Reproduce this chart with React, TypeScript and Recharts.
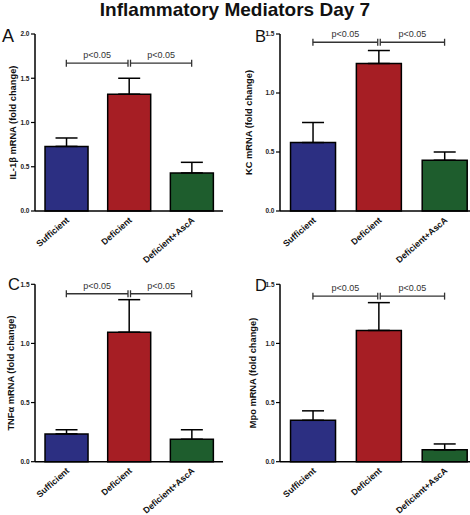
import React from "react";
import { BarChart, Bar, XAxis, YAxis, Cell, ErrorBar, ReferenceLine } from "recharts";

const FONT = "'Liberation Sans', Arial, sans-serif";

const categories = ["Sufficient", "Deficient", "Deficient+AscA"];
const barColors = ["#2c2f82", "#a61e24", "#1e5d2d"];

const il1bMean = [0.73, 1.32, 0.43];
const il1bSem = [0.095, 0.18, 0.12];
const kcMean = [0.58, 1.25, 0.43];
const kcSem = [0.17, 0.11, 0.07];
const tnfMean = [0.235, 1.095, 0.19];
const tnfSem = [0.035, 0.275, 0.08];
const mpoMean = [0.35, 1.11, 0.1];
const mpoSem = [0.08, 0.235, 0.05];

const ticksTo2 = [0, 0.5, 1, 1.5, 2];
const ticksTo15 = [0, 0.5, 1, 1.5];
const sigLabel = "p<0.05";

function buildRows(mean: number[], sem: number[]) {
  return categories.map((name, i) => ({ name, mean: mean[i], err: [0, sem[i]] }));
}

function CatTick({ x, y, payload }: any) {
  const tx = x + 3.5;
  const ty = y + 10;
  return (
    <text
      x={tx}
      y={ty}
      transform={`rotate(-41, ${tx}, ${ty})`}
      textAnchor="end"
      fontSize={8.8}
      fontWeight="bold"
      fill="#111"
      fontFamily={FONT}
    >
      {payload.value}
    </text>
  );
}

// significance bracket drawn over a reference segment
const bracket = (padL: number, padR: number) => (props: any) => {
  const { x1, x2, y1 } = props;
  const a = x1 + padL;
  const b = x2 - padR;
  return (
    <g>
      <line x1={a} y1={y1} x2={b} y2={y1} stroke="#333" strokeWidth={1.3} />
      <line x1={a} y1={y1 - 3.5} x2={a} y2={y1 + 3.5} stroke="#333" strokeWidth={1.3} />
      <line x1={b} y1={y1 - 3.5} x2={b} y2={y1 + 3.5} stroke="#333" strokeWidth={1.3} />
      <text x={(a + b) / 2} y={y1 - 5} textAnchor="middle" fontSize={9} fill="#333" fontFamily={FONT}>
        {sigLabel}
      </text>
    </g>
  );
};

interface PanelProps {
  left: number;
  top: number;
  height: number;
  axisHeight: number;
  marginTop: number;
  marginRight: number;
  yMax: number;
  ticks: number[];
  yLabel: string;
  labelDx: number;
  mean: number[];
  sem: number[];
  sigY: number;
}

function Panel(p: PanelProps) {
  const rows = buildRows(p.mean, p.sem);
  return (
    <div style={{ position: "absolute", left: p.left, top: p.top }}>
      <BarChart
        width={235}
        height={p.height}
        data={rows}
        margin={{ top: p.marginTop, right: p.marginRight, left: 0, bottom: 3 }}
        barCategoryGap="16%"
      >
        <XAxis
          dataKey="name"
          interval={0}
          tickLine={false}
          tickSize={0}
          tickMargin={0}
          height={p.axisHeight}
          axisLine={{ stroke: "#000", strokeWidth: 1.5 }}
          tick={<CatTick />}
        />
        <YAxis
          type="number"
          domain={[0, p.yMax]}
          ticks={p.ticks}
          width={35}
          tickSize={4}
          tickMargin={1.5}
          tickFormatter={(v: number) => v.toFixed(1)}
          axisLine={{ stroke: "#000", strokeWidth: 1.5 }}
          tickLine={{ stroke: "#000", strokeWidth: 1.2 }}
          tick={{ fontSize: 6.5, fontWeight: "bold", fill: "#222", fontFamily: FONT }}
          label={{
            value: p.yLabel,
            angle: -90,
            position: "center",
            dx: p.labelDx,
            style: { fontSize: 9.3, fontWeight: "bold", fill: "#111", fontFamily: FONT },
          }}
        />
        <Bar dataKey="mean" stroke="#000" strokeWidth={1.5} isAnimationActive={false}>
          {rows.map((_, i) => (
            <Cell key={i} fill={barColors[i]} />
          ))}
          <ErrorBar dataKey="err" width={11} stroke="#000" strokeWidth={1.5} direction="y" isAnimationActive={false} />
        </Bar>
        <ReferenceLine
          segment={[
            { x: categories[0], y: p.sigY },
            { x: categories[1], y: p.sigY },
          ]}
          shape={bracket(0, 1)}
        />
        <ReferenceLine
          segment={[
            { x: categories[1], y: p.sigY },
            { x: categories[2], y: p.sigY },
          ]}
          shape={bracket(1.5, 0)}
        />
      </BarChart>
    </div>
  );
}

export default function App() {
  return (
    <div style={{ position: "absolute", left: 0, top: 0, width: 470, height: 515, background: "#fff", overflow: "hidden" }}>
      <svg width={470} height={515} style={{ position: "absolute", left: 0, top: 0 }}>
        <text x={235} y={15.5} textAnchor="middle" fontSize={19} fontWeight="bold" fill="#111" fontFamily={FONT}>
          Inflammatory Mediators Day 7
        </text>
        <text x={2} y={42} fontSize={18} fill="#111" fontFamily={FONT}>A</text>
        <text x={255} y={41.5} fontSize={16.5} fill="#111" fontFamily={FONT}>B</text>
        <text x={8} y={290} fontSize={16.5} fill="#111" fontFamily={FONT}>C</text>
        <text x={255} y={291} fontSize={16.5} fill="#111" fontFamily={FONT}>D</text>
      </svg>
      <Panel left={0} top={20} height={254} axisHeight={60} marginTop={14} marginRight={12} yMax={2} ticks={ticksTo2}
        yLabel="IL-1β mRNA (fold change)" labelDx={-5} mean={il1bMean} sem={il1bSem} sigY={1.67} />
      <Panel left={245} top={20} height={254} axisHeight={60} marginTop={14} marginRight={2.5} yMax={1.5} ticks={ticksTo15}
        yLabel="KC mRNA (fold change)" labelDx={-14} mean={kcMean} sem={kcSem} sigY={1.43} />
      <Panel left={0} top={265} height={249.7} axisHeight={50} marginTop={19.3} marginRight={12} yMax={1.5} ticks={ticksTo15}
        yLabel="TNFα mRNA (fold change)" labelDx={-6.7} mean={tnfMean} sem={tnfSem} sigY={1.42} />
      <Panel left={245} top={265} height={249.7} axisHeight={50} marginTop={19.3} marginRight={2.5} yMax={1.5} ticks={ticksTo15}
        yLabel="Mpo mRNA (fold change)" labelDx={-10} mean={mpoMean} sem={mpoSem} sigY={1.4} />
    </div>
  );
}
